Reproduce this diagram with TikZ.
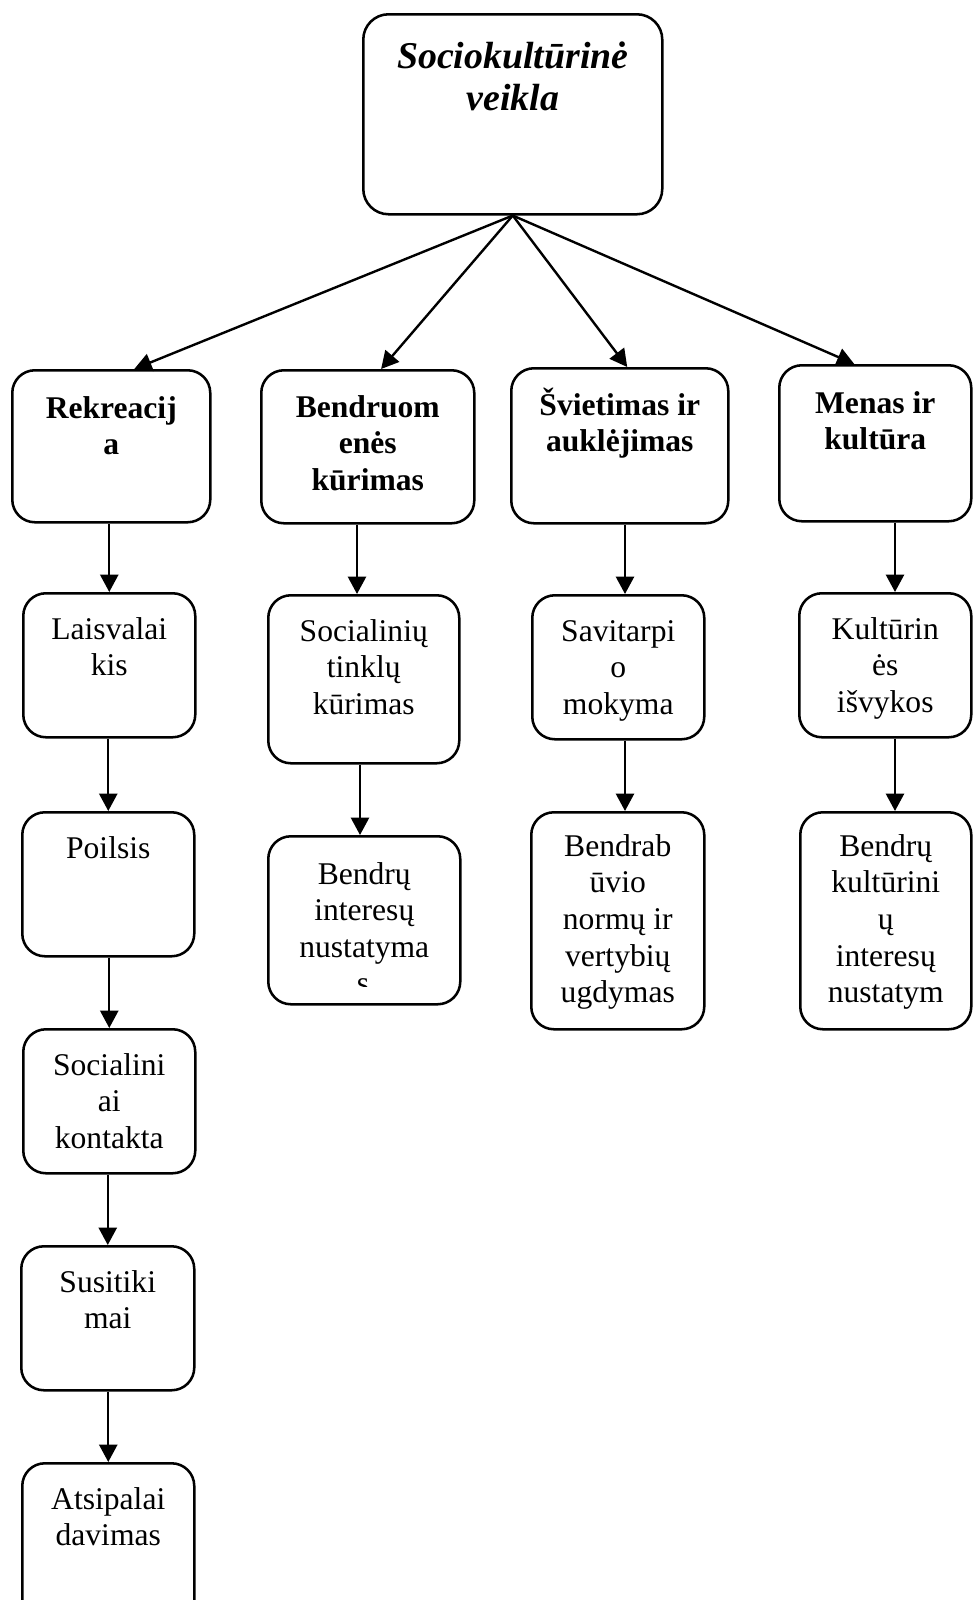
\documentclass[tikz,border=0pt]{standalone}
\usepackage{fontspec}
\setmainfont{Liberation Serif}
\usetikzlibrary{arrows.meta}

% box text: width, height, first baseline, lines
\newcommand{\boxtxt}[4]{\parbox[t][#2][t]{#1}{\lineskiplimit=-20pt\centering\rule{0pt}{#3}#4}}

\tikzset{
  itembox/.style={draw, line width=1.9pt, rounded corners=17pt, inner sep=0pt, anchor=north west,
    font=\fontsize{23.7}{27.5}\selectfont},
  catbox/.style={itembox, font=\fontsize{23.7}{27.5}\selectfont\bfseries},
  rootbox/.style={itembox, rounded corners=19pt, font=\fontsize{28.4}{31.7}\selectfont\bfseries\itshape},
  link/.style={line width=1.8pt, -{Triangle[length=13pt,width=13.5pt]}}
}

\begin{document}
\begin{tikzpicture}[x=0.75pt, y=-0.75pt]
  \useasboundingbox (0,0) rectangle (972,1600);

  % root
  \node[rootbox] (root) at (362,13) {\boxtxt{224.25pt}{150pt}{40.3pt}{Sociokultūrinė\\veikla}};

  % four branches
  \node[catbox] (rek) at (11,369)  {\boxtxt{148.5pt}{114pt}{36pt}{Rekreacij\\a}};
  \node[catbox] (ben) at (260,369) {\boxtxt{159.75pt}{114.75pt}{35.25pt}{Bendruom\\enės\\kūrimas}};
  \node[catbox] (svi) at (510,367) {\boxtxt{162.75pt}{116.25pt}{35.25pt}{Švietimas ir\\auklėjimas}};
  \node[catbox] (men) at (778,364) {\boxtxt{144pt}{117pt}{36pt}{Menas ir\\kultūra}};

  % recreation column
  \node[itembox] (lais) at (22,592)  {\boxtxt{129pt}{108pt}{34.5pt}{Laisvalai\\kis}};
  \node[itembox] (poil) at (21,811)  {\boxtxt{129pt}{108pt}{34.5pt}{Poilsis}};
  \node[itembox] (soc)  at (22,1028) {\boxtxt{129pt}{108pt}{34.5pt}{Socialini\\ai\\kontakta}};
  \node[itembox] (susi) at (20,1245) {\boxtxt{129.75pt}{108pt}{34.5pt}{Susitiki\\mai}};
  \node[itembox] (atsi) at (21,1462) {\boxtxt{129pt}{120pt}{34.5pt}{Atsipalai\\davimas}};

  % community column
  \node[itembox] (sotk) at (267,594) {\boxtxt{143.25pt}{126pt}{34.5pt}{Socialinių\\tinklų\\kūrimas}};
  \node[itembox] (bint) at (267,835) {\boxtxt{144pt}{126pt}{36pt}{Bendrų\\interesų\\nustatyma}};
  \begin{scope}
    \clip (267,835) rectangle (459,986);
    \node[anchor=base, inner sep=0pt, font=\fontsize{23.7}{27.5}\selectfont] (bints) at (363,993) {s};
  \end{scope}

  % education column
  \node[itembox] (sav)  at (531,594) {\boxtxt{129pt}{108pt}{34.5pt}{Savitarpi\\o\\mokyma}};
  \node[itembox] (brab) at (530,811) {\boxtxt{129.75pt}{162.75pt}{33pt}{Bendrab\\ūvio\\normų ir\\vertybių\\ugdymas}};

  % culture column
  \node[itembox] (kult) at (798,592) {\boxtxt{129pt}{108pt}{34.5pt}{Kultūrin\\ės\\išvykos}};
  \node[itembox] (bkul) at (799,811) {\boxtxt{128.25pt}{162.75pt}{33pt}{Bendrų\\kultūrini\\ų\\interesų\\nustatym}};

  % arrows from root
  \draw[link] (root.south) -- ([xshift=17.25pt]rek.north);
  \draw[link] (root.south) -- ([xshift=10pt]ben.north);
  \draw[link] (root.south) -- ([xshift=5.6pt]svi.north);
  \draw[link] (root.south) -- ([xshift=-15.75pt]men.north);

  % vertical arrows
  \draw[link] (rek.south -| lais.north) -- (lais.north);
  \draw[link] (lais.south -| poil.north) -- (poil.north);
  \draw[link] (poil.south -| soc.north) -- (soc.north);
  \draw[link] (soc.south -| susi.north) -- (susi.north);
  \draw[link] (susi.south -| atsi.north) -- (atsi.north);

  \draw[link] (ben.south -| 357,0) -- (sotk.north -| 357,0);
  \draw[link] (sotk.south -| 360,0) -- (bint.north -| 360,0);
  \draw[link] (svi.south -| 625,0) -- (sav.north -| 625,0);
  \draw[link] (sav.south -| 625,0) -- (brab.north -| 625,0);
  \draw[link] (men.south -| 895,0) -- (kult.north -| 895,0);
  \draw[link] (kult.south -| 895,0) -- (bkul.north -| 895,0);
\end{tikzpicture}
\end{document}
